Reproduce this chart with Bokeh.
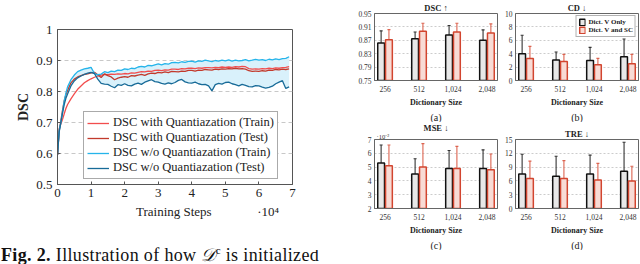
from bokeh.plotting import figure
from bokeh.models import (Range1d, FixedTicker, Legend, LegendItem, Whisker, TeeHead,
                          ColumnDataSource, Title, Div)
from bokeh.layouts import row, column
from bokeh.embed import file_html
from bokeh.resources import INLINE

FONT = "Liberation Serif"

# ---------------- left chart data (training steps in units of 10^4) ----------------
steps = [0, 0.05, 0.1, 0.15, 0.2, 0.25, 0.3, 0.4, 0.5, 0.6, 0.7, 0.8, 0.9,
         1.0, 1.1, 1.2, 1.3, 1.4, 1.5, 1.6, 1.7, 1.8, 1.9,
         2.0, 2.1, 2.2, 2.3, 2.4, 2.5, 2.6, 2.7, 2.8, 2.9,
         3.0, 3.1, 3.2, 3.3, 3.4, 3.5, 3.6, 3.7, 3.8, 3.9,
         4.0, 4.1, 4.2, 4.3, 4.4, 4.5, 4.6, 4.7, 4.8, 4.9,
         5.0, 5.1, 5.2, 5.3, 5.4, 5.5, 5.6, 5.7, 5.8, 5.9,
         6.0, 6.1, 6.2, 6.3, 6.4, 6.5, 6.6, 6.7, 6.8, 6.9]

dsc_q_train = [0.595, 0.68, 0.695, 0.71, 0.728, 0.745, 0.758, 0.776, 0.792, 0.807, 0.818, 0.828, 0.835,
               0.841, 0.846, 0.85, 0.853, 0.855, 0.854, 0.856, 0.855, 0.857, 0.856,
               0.858, 0.857, 0.86, 0.859, 0.862, 0.864, 0.863, 0.866, 0.865, 0.868,
               0.869, 0.867, 0.87, 0.869, 0.872, 0.872, 0.871, 0.874, 0.873, 0.875,
               0.875, 0.874, 0.876, 0.875, 0.877, 0.877, 0.876, 0.878, 0.877, 0.879,
               0.878, 0.879, 0.878, 0.88, 0.879, 0.881, 0.88, 0.874, 0.872, 0.873,
               0.872, 0.874, 0.873, 0.875, 0.874, 0.876, 0.875, 0.877, 0.878, 0.88]

dsc_q_test = [0.595, 0.672, 0.705, 0.74, 0.77, 0.79, 0.803, 0.828, 0.84, 0.847, 0.851, 0.855, 0.857,
              0.86, 0.862, 0.854, 0.845, 0.857, 0.851, 0.847, 0.838, 0.843, 0.846,
              0.848, 0.846, 0.851, 0.85, 0.853, 0.855, 0.852, 0.857, 0.859, 0.858,
              0.862, 0.86, 0.863, 0.861, 0.865, 0.864, 0.863, 0.866, 0.865, 0.868,
              0.868, 0.866, 0.869, 0.868, 0.871, 0.87, 0.869, 0.872, 0.871, 0.873,
              0.872, 0.874, 0.873, 0.875, 0.873, 0.874, 0.872, 0.867, 0.865, 0.866,
              0.865, 0.867, 0.866, 0.869, 0.868, 0.871, 0.87, 0.872, 0.871, 0.873]

dsc_noq_train = [0.595, 0.675, 0.70, 0.735, 0.77, 0.795, 0.815, 0.838, 0.853, 0.864, 0.869, 0.873, 0.875,
                 0.878, 0.858, 0.854, 0.856, 0.864, 0.861, 0.866, 0.864, 0.869, 0.868,
                 0.873, 0.871, 0.875, 0.874, 0.879, 0.881, 0.879, 0.884, 0.883, 0.886,
                 0.889, 0.886, 0.89, 0.888, 0.893, 0.894, 0.892, 0.896, 0.894, 0.897,
                 0.898, 0.895, 0.899, 0.897, 0.901, 0.899, 0.896, 0.9, 0.898, 0.901,
                 0.899, 0.902, 0.898, 0.901, 0.899, 0.9, 0.903, 0.899, 0.901, 0.904,
                 0.901, 0.903, 0.9, 0.904, 0.902, 0.905, 0.903, 0.906, 0.907, 0.912]

dsc_noq_test = [0.595, 0.67, 0.70, 0.73, 0.758, 0.778, 0.792, 0.818, 0.834, 0.844, 0.85, 0.855, 0.859,
                0.862, 0.858, 0.84, 0.826, 0.824, 0.823, 0.817, 0.812, 0.822, 0.82,
                0.825, 0.82, 0.818, 0.824, 0.827, 0.823, 0.83, 0.834, 0.838, 0.832,
                0.83, 0.826, 0.824, 0.828, 0.825, 0.829, 0.836, 0.839, 0.831, 0.828,
                0.827, 0.83, 0.825, 0.822, 0.823, 0.818, 0.802, 0.822, 0.826, 0.824,
                0.829, 0.83, 0.825, 0.822, 0.818, 0.823, 0.82, 0.816, 0.815, 0.819,
                0.818, 0.814, 0.811, 0.813, 0.817, 0.825, 0.83, 0.835, 0.81, 0.815]

left_yticks = [0.5, 0.6, 0.7, 0.8, 0.9, 1.0]
left_xticks = [0, 1, 2, 3, 4, 5, 6, 7]
x_title = "Training Steps"
x_scale_note = "·10⁴"
legend_labels = ["DSC with Quantiazation (Train)", "DSC with Quantiazation (Test)",
                 "DSC w/o Quantiazation (Train)", "DSC w/o Quantiazation (Test)"]

# ---------------- bar chart data ----------------
dict_sizes = ["256", "512", "1,024", "2,048"]
series_names = ["Dict. V Only", "Dict. V and SC"]

dsc_v = [0.862, 0.875, 0.886, 0.870]
dsc_v_lo = [0.828, 0.857, 0.857, 0.836]
dsc_v_hi = [0.898, 0.895, 0.914, 0.901]
dsc_sc = [0.872, 0.897, 0.895, 0.892]
dsc_sc_lo = [0.843, 0.874, 0.869, 0.865]
dsc_sc_hi = [0.902, 0.921, 0.921, 0.919]

cd_v = [4.0, 3.05, 3.0, 3.55]
cd_v_lo = [1.05, 1.2, 0.9, 0.85]
cd_v_hi = [6.75, 4.25, 4.95, 6.2]
cd_sc = [3.3, 2.85, 2.35, 2.5]
cd_sc_lo = [1.5, 1.8, 1.4, 1.2]
cd_sc_hi = [5.1, 3.9, 3.3, 3.9]

mse_v = [5.3, 4.5, 4.9, 4.9]
mse_v_lo = [4.0, 3.4, 3.55, 3.5]
mse_v_hi = [6.6, 5.6, 6.2, 6.25]
mse_sc = [5.1, 5.0, 4.9, 4.8]
mse_sc_lo = [3.6, 3.3, 3.3, 3.7]
mse_sc_hi = [6.6, 6.7, 6.5, 5.95]

tre_v = [7.5, 7.0, 7.5, 8.1]
tre_v_lo = [3.0, 2.7, 3.3, 1.8]
tre_v_hi = [11.8, 11.35, 11.6, 14.4]
tre_sc = [6.5, 6.5, 6.2, 6.0]
tre_sc_lo = [2.5, 2.5, 2.7, 2.7]
tre_sc_hi = [10.3, 10.4, 9.8, 9.2]

# ---------------- left line chart ----------------
FRAME = "#555555"
NB = "\u00a0"
p = figure(width=310, height=222, x_range=Range1d(0, 7), y_range=Range1d(0.5, 1),
           output_backend="svg", toolbar_location=None,
           min_border_left=57, min_border_right=18, min_border_top=29, min_border_bottom=38)
p.outline_line_color = FRAME
p.varea(x=steps, y1=dsc_noq_test, y2=dsc_noq_train, fill_color="#d9f1fb", fill_alpha=1)
r1 = p.line(steps, dsc_q_train, line_color="#f24d4d", line_width=1.3)
r2 = p.line(steps, dsc_q_test, line_color="#c23a2c", line_width=1.3)
r3 = p.line(steps, dsc_noq_train, line_color="#25b4ea", line_width=1.3)
r4 = p.line(steps, dsc_noq_test, line_color="#186b98", line_width=1.3)

p.xgrid.visible = False
p.ygrid.grid_line_color = "#c8c8c8"
p.ygrid.grid_line_dash = "4 3"
for ax in (p.xaxis[0], p.yaxis[0]):
    ax.axis_line_color = FRAME
    ax.major_tick_in = 3
    ax.major_tick_out = 0
    ax.minor_tick_line_color = None
    ax.major_tick_line_color = FRAME
    ax.major_label_text_font = FONT
    ax.major_label_text_font_size = "13px"
    ax.major_label_text_color = "#222222"
    ax.axis_label_text_font = FONT
    ax.axis_label_text_color = "#222222"
p.yaxis.ticker = FixedTicker(ticks=left_yticks)
p.yaxis.major_label_overrides = {1: "1"}
p.xaxis.ticker = FixedTicker(ticks=left_xticks)
p.yaxis.axis_label = "DSC"
p.yaxis.axis_label_text_font_size = "14px"
p.yaxis.axis_label_text_font_style = "bold"
p.yaxis.axis_label_standoff = 2
# x label centred under the frame, with the ·10^4 scale note further right on the same line
p.xaxis.axis_label = NB * 20 + x_title + NB * 14 + x_scale_note
p.xaxis.axis_label_text_font_size = "13px"
p.xaxis.axis_label_text_font_style = "normal"
p.xaxis.axis_label_standoff = 4
p.xaxis.major_label_standoff = 4

legend = Legend(items=[LegendItem(label=legend_labels[i], renderers=[r])
                       for i, r in enumerate([r1, r2, r3, r4])],
                location=(26, 5), label_text_font=FONT, label_text_font_size="12.5px",
                label_text_color="#222222", label_text_line_height=1.0,
                glyph_width=22, glyph_height=12,
                label_height=12, label_standoff=4, spacing=0, padding=3, margin=0,
                border_line_color=FRAME, border_line_width=1,
                background_fill_alpha=1)
p.add_layout(legend)

caption = Div(text='<div style="padding-top:19px;padding-left:1px;font-family:\'Liberation Serif\';'
                   'font-size:18px;line-height:18px;letter-spacing:0.35px;white-space:nowrap;color:#111;">'
                   '<b>Fig.&nbsp;2.</b> Illustration of how <i>𝒟</i><sup style="font-size:11px">c</sup>'
                   ' is initialized</div>',
              width=310, height=40, margin=0)


# ---------------- bar panels ----------------
def bar_panel(title, sub, yr, yticks, v, v_lo, v_hi, sc, sc_lo, sc_hi, width, mbl, frame_h,
              mbt, mbb, exponent=None, legend_on=False):
    f = figure(width=width, height=mbt + frame_h + mbb, x_range=Range1d(-0.31, 3.31),
               y_range=Range1d(*yr), output_backend="svg", toolbar_location=None,
               min_border_left=mbl, min_border_right=2 if width < 160 else 1,
               min_border_top=mbt, min_border_bottom=mbb)
    f.outline_line_color = "#666666"
    xs = [0, 1, 2, 3]
    xb = [x - 0.115 for x in xs]
    xr = [x + 0.115 for x in xs]
    rb = f.vbar(x=xb, top=v, bottom=yr[0], width=0.2, fill_color="#e8e8e8",
                line_color="#111111", line_width=1.5)
    rr = f.vbar(x=xr, top=sc, bottom=yr[0], width=0.2, fill_color="#f8dbd5",
                line_color="#d2452f", line_width=1.5)
    sb = ColumnDataSource(dict(x=xb, lo=v_lo, hi=v_hi))
    sr = ColumnDataSource(dict(x=xr, lo=sc_lo, hi=sc_hi))
    for src, col in ((sb, "#333333"), (sr, "#dc6450")):
        f.add_layout(Whisker(source=src, base="x", lower="lo", upper="hi",
                             line_color=col, line_width=1.1,
                             upper_head=TeeHead(size=3, line_color=col, line_width=1.1),
                             lower_head=TeeHead(size=3, line_color=col, line_width=1.1)))
    f.xgrid.visible = False
    f.ygrid.grid_line_color = "#cccccc"
    f.ygrid.grid_line_dash = "2 2"
    for ax in (f.xaxis[0], f.yaxis[0]):
        ax.axis_line_color = "#666666"
        ax.major_tick_in = 0
        ax.major_tick_out = 0
        ax.minor_tick_line_color = None
        ax.major_label_text_font = FONT
        ax.major_label_text_font_size = "7.5px"
        ax.major_label_text_color = "#333333"
        ax.major_label_standoff = 3
    f.xaxis.major_label_standoff = 5
    f.yaxis.ticker = FixedTicker(ticks=yticks)
    f.xaxis.ticker = FixedTicker(ticks=xs)
    f.xaxis.major_label_overrides = {i: dict_sizes[i] for i in xs}
    f.xaxis.axis_label = "Dictionary Size"
    f.xaxis.axis_label_text_font = FONT
    f.xaxis.axis_label_text_font_size = "8px"
    f.xaxis.axis_label_text_font_style = "bold"
    f.xaxis.axis_label_text_color = "#222222"
    f.xaxis.axis_label_standoff = 3
    f.title = Title(text=title, align="center", text_font=FONT, text_font_size="8.5px",
                    text_font_style="bold", text_color="#222222",
                    standoff=-4 if exponent else 1)
    if exponent:
        f.add_layout(Title(text=exponent, align="left", offset=2, standoff=0, text_font=FONT,
                           text_font_size="6.5px", text_font_style="normal",
                           text_color="#333333"), "above")
    f.add_layout(Title(text=sub, align="center", text_font=FONT, text_font_size="10px",
                       text_font_style="normal", text_color="#222222", standoff=0), "below")
    if legend_on:
        lg = Legend(items=[LegendItem(label=series_names[0], renderers=[rb]),
                           LegendItem(label=series_names[1], renderers=[rr])],
                    location="top_right", label_text_font=FONT, label_text_font_size="7px",
                    label_text_font_style="bold", label_text_color="#222222",
                    label_text_line_height=1.0,
                    glyph_width=7, glyph_height=8, label_height=8, label_standoff=3,
                    spacing=0, padding=2, margin=2, border_line_color="#666666",
                    background_fill_alpha=1)
        f.add_layout(lg)
    return f


pa = bar_panel("DSC ↑", "(a)", (0.75, 0.95), [0.75, 0.79, 0.83, 0.87, 0.91, 0.95],
               dsc_v, dsc_v_lo, dsc_v_hi, dsc_sc, dsc_sc_lo, dsc_sc_hi, 188, 64, 75, 13, 34)
pb = bar_panel("CD ↓", "(b)", (0, 10), [0, 2, 4, 6, 8, 10],
               cd_v, cd_v_lo, cd_v_hi, cd_sc, cd_sc_lo, cd_sc_hi, 142, 17, 75, 13, 34,
               legend_on=True)
pc = bar_panel("MSE ↓", "(c)", (2, 7), [2, 3, 4, 5, 6, 7],
               mse_v, mse_v_lo, mse_v_hi, mse_sc, mse_sc_lo, mse_sc_hi, 188, 64, 76, 14, 38,
               exponent="·10⁻²")
pd_ = bar_panel("TRE ↓", "(d)", (0, 15), [0, 3, 6, 9, 12, 15],
                tre_v, tre_v_lo, tre_v_hi, tre_sc, tre_sc_lo, tre_sc_hi, 142, 17, 76, 14, 38)

layout = row(column(p, caption), column(row(pa, pb), row(pc, pd_)))

open("out.html", "w").write(file_html(layout, INLINE))
